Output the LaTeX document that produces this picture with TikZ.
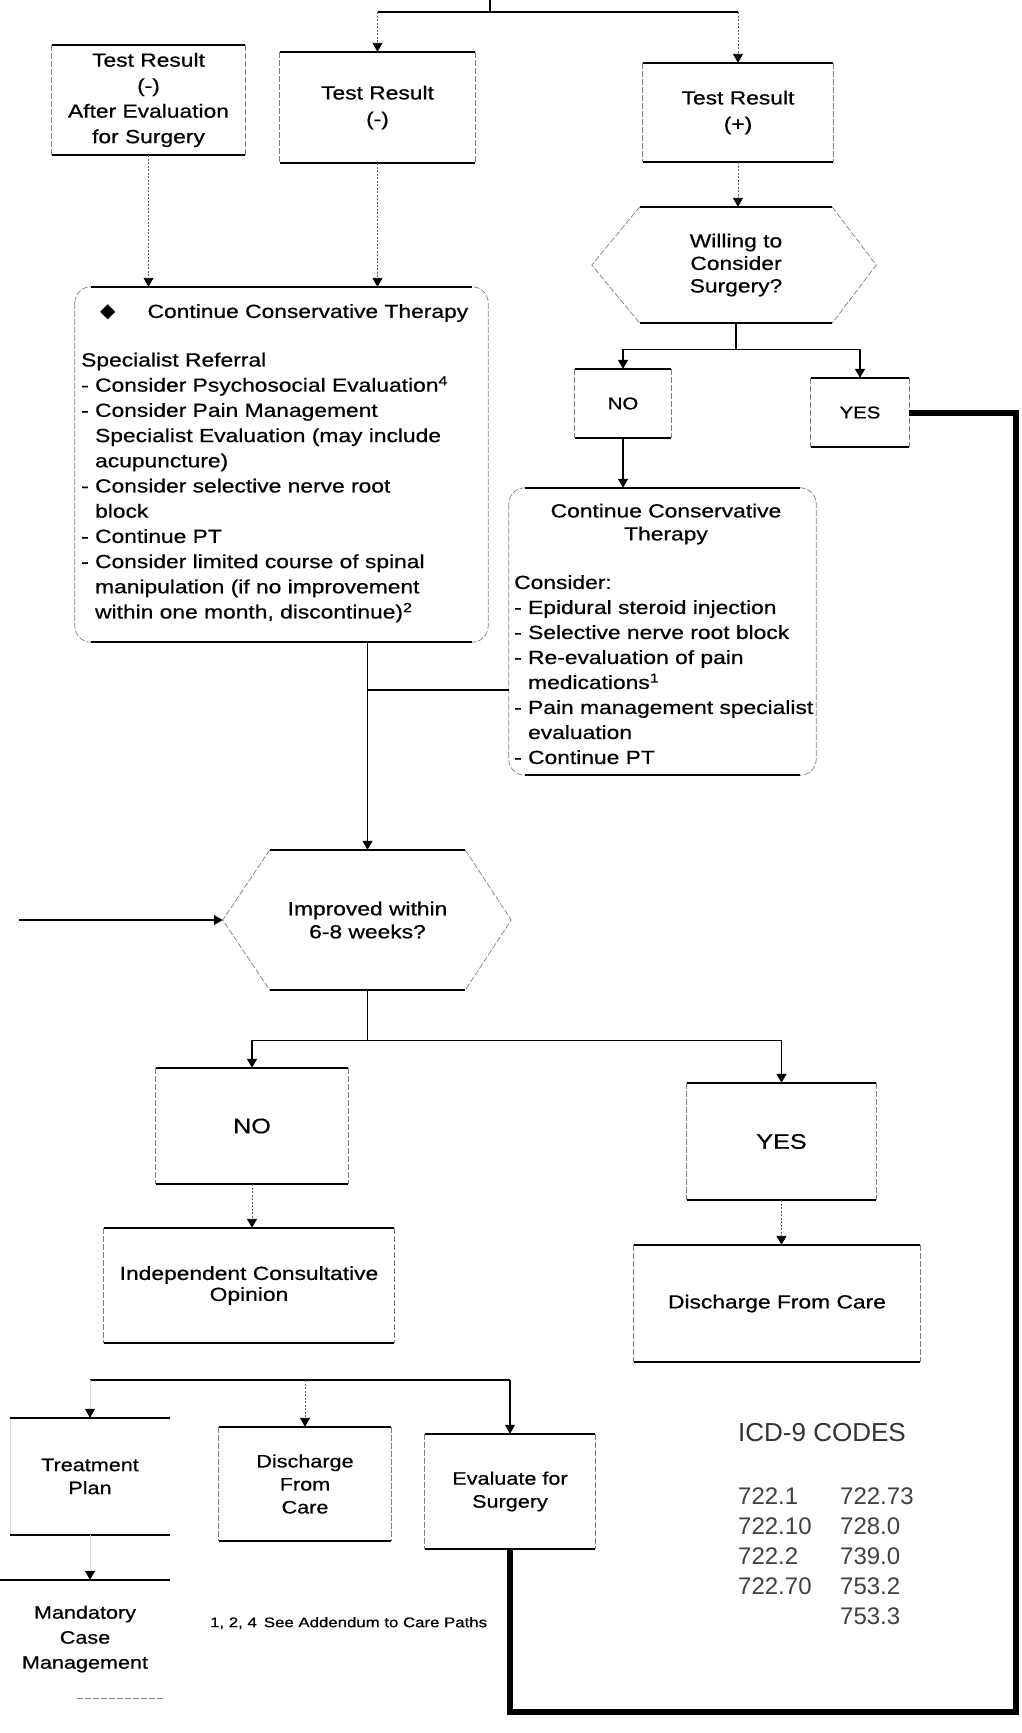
\documentclass[tikz,border=0pt]{standalone}
\usepackage{fontspec}
\setmainfont{Liberation Sans}[FakeStretch=1.2,FakeBold=0.6]
\newfontfamily\codefont{Liberation Sans}
\newfontfamily\symbolfont{DejaVu Sans}
\usetikzlibrary{arrows.meta,calc}

% box with strong top/bottom rules and faint sides
\newcommand\tbframe[1]{%
  \draw[side] (#1.north west) -- (#1.south west) (#1.north east) -- (#1.south east);
  \draw[rule] (#1.north west) -- (#1.north east) (#1.south west) -- (#1.south east);}
% rounded box, same treatment
\newcommand\rframe[1]{%
  \draw[side, rounded corners=16pt] (#1.north west) rectangle (#1.south east);
  \draw[rule] ([xshift=16pt]#1.north west) -- ([xshift=-16pt]#1.north east)
              ([xshift=16pt]#1.south west) -- ([xshift=-16pt]#1.south east);}
% flat-topped hexagon around a node
\newcommand\hexframe[3]{%
  \draw[side] (#1.north west) -- ([xshift=-#2]#1.west) -- (#1.south west)
              (#1.north east) -- ([xshift=#3]#1.east) -- (#1.south east);
  \draw[rule] (#1.north west) -- (#1.north east) (#1.south west) -- (#1.south east);}

\begin{document}
\begin{tikzpicture}[x=1pt,y=-1pt,
  rule/.style={line width=2pt},
  side/.style={line width=0.7pt, black!50, dash pattern=on 6pt off 2pt},
  conn/.style={line width=1.1pt},
  fconn/.style={line width=0.9pt, black!60, dash pattern=on 2pt off 1.5pt},
  ghost/.style={line width=0.6pt, black!15},
  arr/.style={-{Triangle[width=10pt,length=9pt,black]}},
  heavy/.style={line width=6pt, line join=miter},
  fs/.style 2 args={font=\fontsize{#1}{#2}\selectfont},
  lbl/.style={inner sep=0pt, align=center},
]
\fill[white] (0,0) rectangle (1021,1733);
\useasboundingbox (0,0) rectangle (1021,1733);

% ---------- top row ----------
\node[lbl, fs={19}{25.5}, minimum width=193pt, minimum height=110pt] (A) at (148.5,100)
  {Test Result\\(-)\\After Evaluation\\for Surgery};
\node[lbl, fs={19}{26}, minimum width=195pt, minimum height=111pt] (B) at (377.5,107.5)
  {Test Result\\(-)};
\node[lbl, fs={19}{26}, minimum width=190pt, minimum height=99pt] (C) at (738,112.5)
  {Test Result\\(+)};
\tbframe{A}\tbframe{B}\tbframe{C}

\coordinate (tin) at (490,0);
\coordinate (tbar) at (490,12);
\draw[conn] (tin) -- (tbar);
\draw[conn] (tbar -| B.north) -- (tbar -| C.north);
\draw[fconn,arr] (tbar -| B.north) -- (B.north);
\draw[fconn,arr] (tbar -| C.north) -- (C.north);

% ---------- willing to consider surgery ----------
\node[lbl, fs={19}{22.5}, minimum width=192pt, minimum height=116pt] (hex1) at (736,265)
  {Willing to\\Consider\\Surgery?};
\hexframe{hex1}{48pt}{44pt}
\draw[fconn,arr] (C.south) -- (C.south |- hex1.north);

\node[lbl, fs={17}{17}, minimum width=96pt, minimum height=69pt] (NO1) at (623,403.5) {NO};
\node[lbl, fs={17}{17}, minimum width=98pt, minimum height=69pt] (YES1) at (860,412.5) {YES};
\tbframe{NO1}\tbframe{YES1}

\coordinate (b1) at ($(hex1.south)+(0,26)$);
\draw[conn] (hex1.south) -- (b1);
\draw[conn,arr] (b1) -| (NO1.north);
\draw[conn,arr] (b1) -| (YES1.north);

% ---------- left conservative therapy box ----------
\node[inner sep=0pt, minimum width=413pt, minimum height=355pt] (CL) at (281.5,464.5) {};
\rframe{CL}
\node[inner sep=0pt, anchor=west, fs={19}{24}] (CLtitle) at (100,313)
  {{\symbolfont\fontsize{20}{20}\selectfont ◆}\hspace{32pt}Continue Conservative Therapy};
\node[inner sep=0pt, anchor=north west, align=left, fs={19}{25.2}] (CLlist) at (81,352.5)
  {Specialist Referral\\
   - Consider Psychosocial Evaluation\textsuperscript{4}\\
   - Consider Pain Management\\
   \hphantom{- }Specialist Evaluation (may include\\
   \hphantom{- }acupuncture)\\
   - Consider selective nerve root\\
   \hphantom{- }block\\
   - Continue PT\\
   - Consider limited course of spinal\\
   \hphantom{- }manipulation (if no improvement\\
   \hphantom{- }within one month, discontinue)\textsuperscript{2}};
\draw[fconn,arr] (A.south) -- (A.south |- CL.north);
\draw[fconn,arr] (B.south) -- (B.south |- CL.north);

% ---------- right conservative therapy box ----------
\node[inner sep=0pt, minimum width=307pt, minimum height=287pt] (CR) at (662.5,631.5) {};
\rframe{CR}
\node[lbl, fs={19}{23}] (CRtitle) at (666,524) {Continue Conservative\\Therapy};
\node[inner sep=0pt, anchor=north west, align=left, fs={19}{25}] (CRlist) at (514,575)
  {Consider:\\
   - Epidural steroid injection\\
   - Selective nerve root block\\
   - Re-evaluation of pain\\
   \hphantom{- }medications\textsuperscript{1}\\
   - Pain management specialist\\
   \hphantom{- }evaluation\\
   - Continue PT};
\draw[conn,arr] (NO1.south) -- (NO1.south |- CR.north);

% ---------- improved within 6-8 weeks ----------
\node[lbl, fs={19}{23}, minimum width=195pt, minimum height=140pt] (hex2) at (367.5,920)
  {Improved within\\6-8 weeks?};
\hexframe{hex2}{47pt}{46pt}
\coordinate (hex2w) at ([xshift=-47pt]hex2.west);
\coordinate (lin) at (19,920);
\draw[conn,arr] (lin) -- (hex2w);

\draw[conn,arr] (CL.south -| hex2.north) -- (hex2.north);
\coordinate (jy) at (0,690);
\draw[conn] (CR.west |- jy) -- (hex2.north |- jy);

% thick return line from surgery evaluation
\coordinate (tbr) at (1016,1712);

% ---------- second decision ----------
\node[lbl, fs={21}{21}, minimum width=192pt, minimum height=116pt] (NO2) at (252,1126) {NO};
\node[lbl, fs={21}{21}, minimum width=189pt, minimum height=117pt] (YES2) at (781.5,1141.5) {YES};
\tbframe{NO2}\tbframe{YES2}
\coordinate (b2) at ($(hex2.south)+(0,50)$);
\draw[conn] (hex2.south) -- (b2);
\draw[conn,arr] (b2) -| (NO2.north);
\draw[conn,arr] (b2) -| (YES2.north);

\node[lbl, fs={19}{21}, minimum width=290pt, minimum height=115pt] (IND) at (249,1285.5)
  {Independent Consultative\\Opinion};
\node[lbl, fs={19}{21}, minimum width=286pt, minimum height=117pt] (DIS1) at (777,1303.5)
  {Discharge From Care};
\tbframe{IND}\tbframe{DIS1}
\draw[fconn,arr] (NO2.south) -- (NO2.south |- IND.north);
\draw[fconn,arr] (YES2.south) -- (YES2.south |- DIS1.north);

% ---------- options after consultative opinion ----------
\node[lbl, fs={18}{23}, minimum width=160pt, minimum height=117pt] (TP) at (90,1476.5)
  {Treatment\\Plan};
\node[lbl, fs={18}{23}, minimum width=172pt, minimum height=114pt] (DC2) at (305,1484)
  {Discharge\\From\\Care};
\node[lbl, fs={18}{23}, minimum width=170pt, minimum height=115pt] (EV) at (510,1491.5)
  {Evaluate for\\Surgery};
\draw[ghost] (TP.north west) -- (TP.south west);
\draw[rule] (TP.north west) -- (TP.north east) (TP.south west) -- (TP.south east);
\tbframe{DC2}\tbframe{EV}

\coordinate (b3) at (0,1380);
\draw[conn] (b3 -| TP.north) -- (b3 -| EV.north);
\draw[ghost,arr] (b3 -| TP.north) -- (TP.north);
\draw[fconn,arr] (b3 -| DC2.north) -- (DC2.north);
\draw[conn,arr] (b3 -| EV.north) -- (EV.north);

\node[lbl, fs={18}{25}, minimum width=170pt, minimum height=118pt] (MCM) at (85,1639)
  {Mandatory\\Case\\Management};
\draw[rule] (MCM.north west) -- (MCM.north east);
\draw[side] ([xshift=77pt]MCM.south west) -- ([xshift=-6pt]MCM.south east);
\draw[ghost,arr] (TP.south) -- (TP.south |- MCM.north);

\draw[heavy] (EV.south) |- (tbr) |- (YES1.east);

% ---------- footnote and codes ----------
\node[inner sep=0pt, anchor=west, fs={14}{14}] (note) at (210,1623)
  {1, 2, 4\enspace See Addendum to Care Paths};
\node[inner sep=0pt, anchor=west, font=\codefont\fontsize{26}{26}\selectfont, text=black!80] (icd)
  at (738,1433) {ICD-9 CODES};
\node[inner sep=0pt, anchor=north west, align=left, font=\codefont\fontsize{24}{30}\selectfont,
  text=black!75] (codesA) at (738,1488) {722.1\\722.10\\722.2\\722.70};
\node[inner sep=0pt, anchor=north west, align=left, font=\codefont\fontsize{24}{30}\selectfont,
  text=black!75] (codesB) at (840,1488) {722.73\\728.0\\739.0\\753.2\\753.3};
\end{tikzpicture}
\end{document}
